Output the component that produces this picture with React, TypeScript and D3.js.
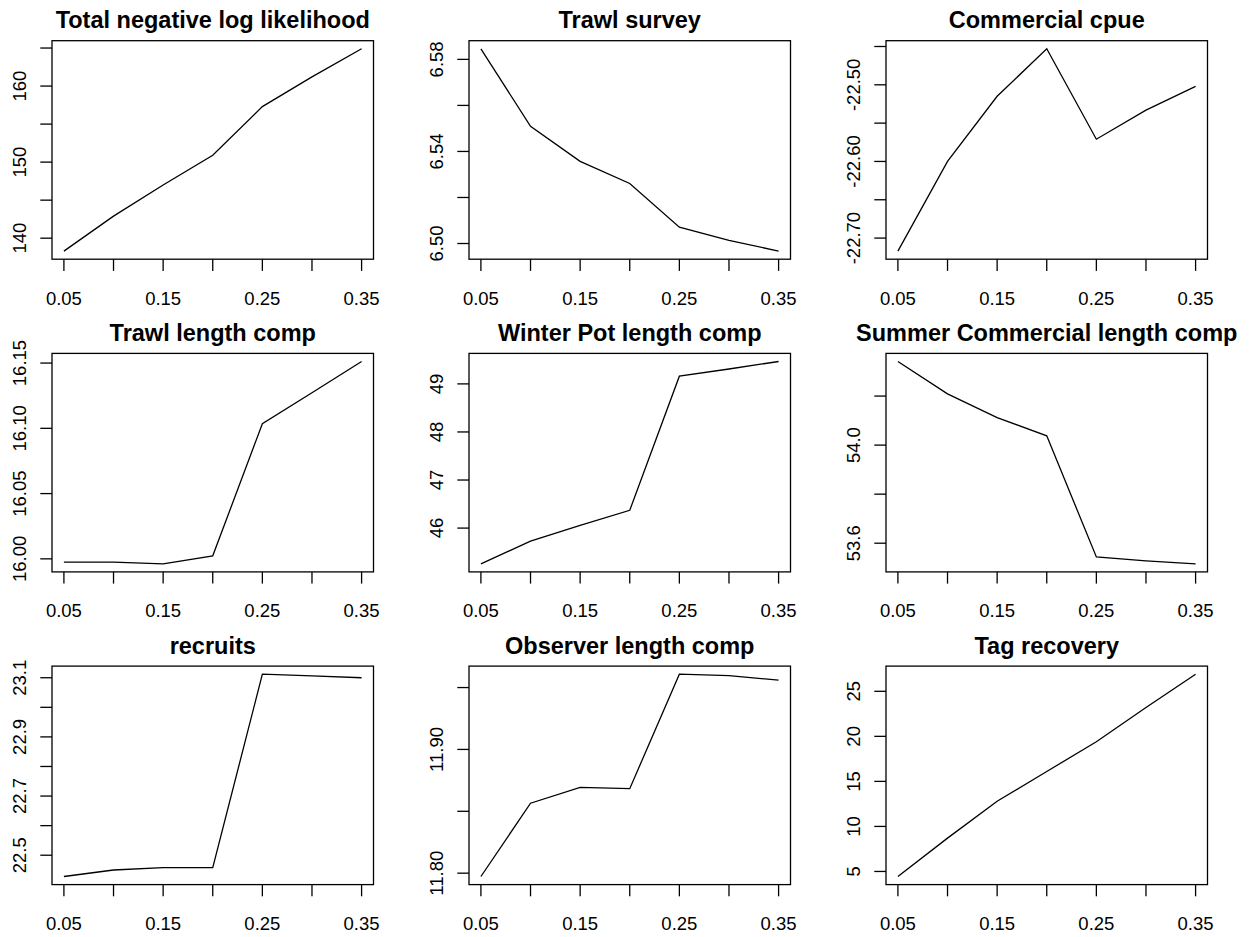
import React from 'react';
import * as d3 from 'd3';

// x values shared by every panel
const xValues = [0.05, 0.1, 0.15, 0.2, 0.25, 0.3, 0.35];
const xTicks = [0.05, 0.1, 0.15, 0.2, 0.25, 0.3, 0.35];
const xTickLabels = [0.05, 0.15, 0.25, 0.35];

const titles = [
  'Total negative log likelihood',
  'Trawl survey',
  'Commercial cpue',
  'Trawl length comp',
  'Winter Pot length comp',
  'Summer Commercial length comp',
  'recruits',
  'Observer length comp',
  'Tag recovery',
];

const totalNLL = [138.3, 142.9, 147.0, 150.9, 157.3, 161.2, 164.9];
const trawlSurvey = [6.5846, 6.5509, 6.5357, 6.5261, 6.5071, 6.5014, 6.4967];
const commercialCpue = [-22.717, -22.6, -22.515, -22.453, -22.571, -22.533, -22.502];
const trawlLength = [15.9975, 15.9975, 15.9962, 16.0023, 16.1035, 16.1273, 16.1512];
const winterPot = [45.257, 45.729, 46.056, 46.37, 49.16, 49.31, 49.466];
const summerCommercial = [54.341, 54.209, 54.112, 54.038, 53.544, 53.528, 53.516];
const recruits = [22.428, 22.45, 22.458, 22.458, 23.112, 23.106, 23.1];
const observer = [11.7973, 11.8565, 11.8694, 11.8683, 11.9608, 11.9597, 11.956];
const tagRecovery = [4.44, 8.7, 12.8, 16.1, 19.4, 23.2, 26.9];

const series = [
  totalNLL, trawlSurvey, commercialCpue,
  trawlLength, winterPot, summerCommercial,
  recruits, observer, tagRecovery,
];

// y ticks and which of them carry a label
const yTicks = [
  [140, 145, 150, 155, 160, 165],
  [6.5, 6.52, 6.54, 6.56, 6.58],
  [-22.7, -22.65, -22.6, -22.55, -22.5, -22.45],
  [16.0, 16.05, 16.1, 16.15],
  [46, 47, 48, 49],
  [53.6, 53.8, 54.0, 54.2],
  [22.5, 22.6, 22.7, 22.8, 22.9, 23.0, 23.1],
  [11.8, 11.85, 11.9, 11.95],
  [5, 10, 15, 20, 25],
];
const yTickLabels = [
  [140, 150, 160],
  [6.5, 6.54, 6.58],
  [-22.7, -22.6, -22.5],
  [16.0, 16.05, 16.1, 16.15],
  [46, 47, 48, 49],
  [53.6, 54.0],
  [22.5, 22.7, 22.9, 23.1],
  [11.8, 11.9],
  [5, 10, 15, 20, 25],
];
const yFormats = ['d', '.2f', '.2f', '.2f', 'd', '.1f', '.1f', '.2f', 'd'];

const W = 1254;
const H = 937;
const font = '"Liberation Sans", Arial, Helvetica, sans-serif';

// R style axis range: data range padded by 4%
const pad = (ext: [number, number]) => {
  const r = ext[1] - ext[0];
  return [ext[0] - 0.04 * r, ext[1] + 0.04 * r];
};

const Panel = ({ i }: { i: number }) => {
  const col = i % 3;
  const row = Math.floor(i / 3);
  const left = 52 + col * 417;
  const top = 40.7 + row * 312.7;
  const w = 321.5;
  const h = 218.5;

  const x = d3.scaleLinear().domain(pad([0.05, 0.35])).range([left, left + w]);
  const vals = series[i];
  const y = d3.scaleLinear()
    .domain(pad(d3.extent(vals) as [number, number]))
    .range([top + h, top]);

  const line = d3.line<number>()
    .x((_, k) => x(xValues[k]))
    .y(d => y(d));

  // R prints a plain hyphen for negatives
  const fmt = (v: number) => d3.format(yFormats[i])(v).replace('\u2212', '-');
  const bottom = top + h;

  return (
    <g>
      <text x={left + w / 2} y={top - 12.4} textAnchor="middle"
        fontFamily={font} fontWeight="bold" fontSize={23.5}>{titles[i]}</text>
      <path d={line(vals) || ''} fill="none" stroke="#000" strokeWidth={1.3} />
      <rect x={left} y={top} width={w} height={h} fill="none" stroke="#000" strokeWidth={1.3} />
      {xTicks.map(t => (
        <line key={'xt' + t} x1={x(t)} x2={x(t)} y1={bottom} y2={bottom + 11.7}
          stroke="#000" strokeWidth={1.3} />
      ))}
      {xTickLabels.map(t => (
        <text key={'xl' + t} x={x(t)} y={bottom + 45.5} textAnchor="middle"
          fontFamily={font} fontSize={18.5}>{d3.format('.2f')(t)}</text>
      ))}
      {yTicks[i].map(t => (
        <line key={'yt' + t} x1={left - 11.7} x2={left} y1={y(t)} y2={y(t)}
          stroke="#000" strokeWidth={1.3} />
      ))}
      {yTickLabels[i].map(t => (
        <text key={'yl' + t} transform={`translate(${left - 26.5},${y(t)}) rotate(-90)`}
          textAnchor="middle" fontFamily={font} fontSize={18.5}>{fmt(t)}</text>
      ))}
    </g>
  );
};

export default function App() {
  return (
    <svg width={W} height={H} style={{ position: 'absolute', left: 0, top: 0, background: '#fff' }}>
      <rect width={W} height={H} fill="#fff" />
      {titles.map((_, i) => <Panel key={i} i={i} />)}
    </svg>
  );
}
